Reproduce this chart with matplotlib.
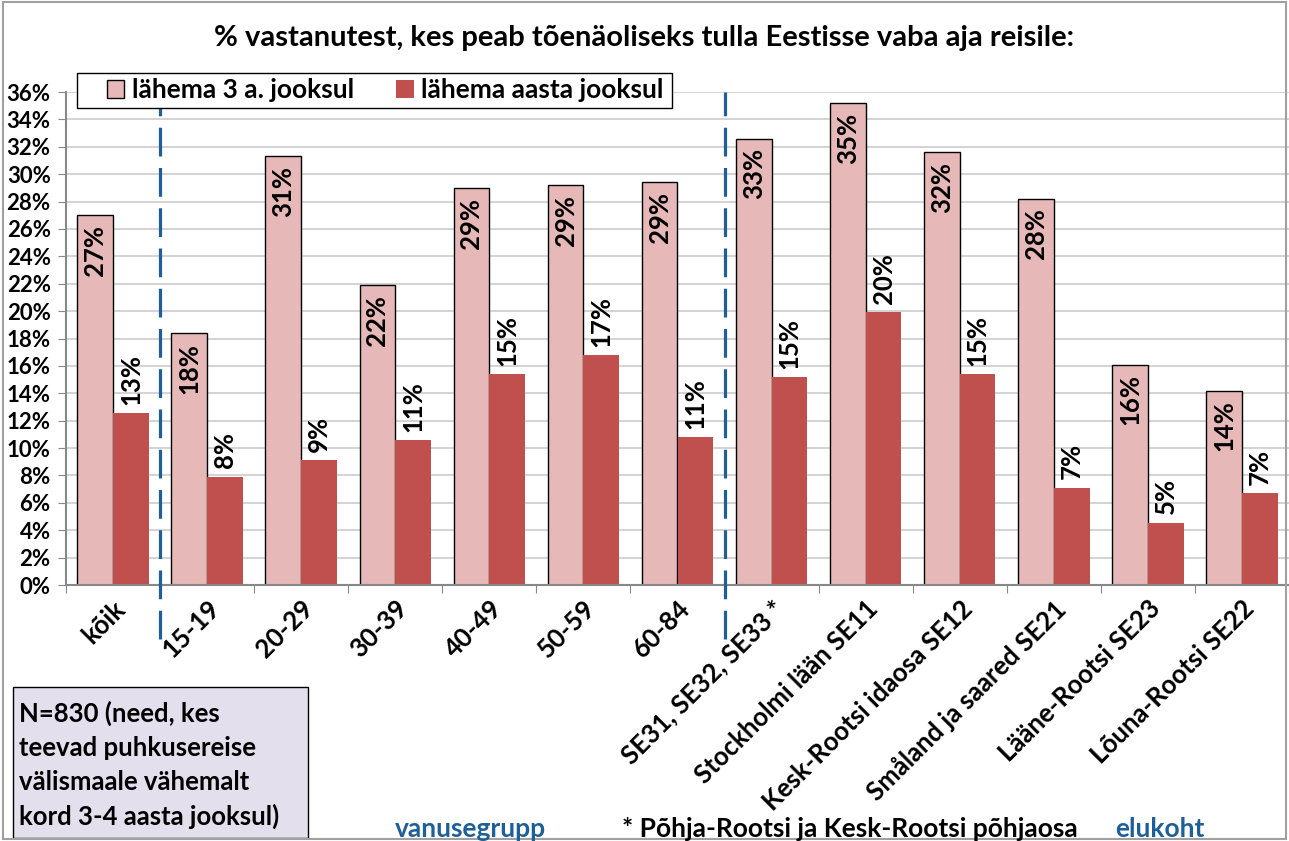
import matplotlib.pyplot as plt
from matplotlib.patches import Patch, Rectangle

plt.rcParams['font.family'] = ['Lato', 'DejaVu Sans']
plt.rcParams['font.weight'] = 'bold'

categories = ['kõik', '15-19', '20-29', '30-39', '40-49', '50-59', '60-84',
              'SE31, SE32, SE33 *', 'Stockholmi lään SE11',
              'Kesk-Rootsi idaosa SE12', 'Småland ja saared SE21',
              'Lääne-Rootsi SE23', 'Lõuna-Rootsi SE22']
next_3_years = [27.0, 18.4, 31.3, 21.9, 29.0, 29.2, 29.4,
                32.6, 35.2, 31.6, 28.2, 16.1, 14.2]
next_year = [12.55, 7.9, 9.1, 10.6, 15.4, 16.8, 10.8,
             15.2, 19.9, 15.4, 7.1, 4.55, 6.7]
yticks = list(range(0, 37, 2))
separators = [0.5, 6.5]

pink = '#E6B9B8'
red = '#C0504D'
blue = '#1F5F99'

fig = plt.figure(figsize=(12.89, 8.41), dpi=100)
ax = fig.add_axes([66 / 1289, 1 - 585 / 841, 1 - 66 / 1289, 493 / 841])

x = list(range(len(categories)))
w = 0.38
ax.bar([i - w / 2 for i in x], next_3_years, w, color=pink,
       edgecolor='black', linewidth=1, zorder=2)
ax.bar([i + w / 2 for i in x], next_year, w, color=red,
       edgecolor='none', zorder=2)

# value labels: inside the pink bars, above the red ones
for i in x:
    ax.annotate('%.0f%%' % next_3_years[i], (i - w / 2, next_3_years[i]),
                xytext=(0, -7), textcoords='offset points', rotation=90,
                ha='center', va='top', fontsize=18.5, fontweight='bold',
                zorder=3)
    ax.annotate('%.0f%%' % next_year[i], (i + w / 2, next_year[i]),
                xytext=(0, 6), textcoords='offset points', rotation=90,
                ha='center', va='bottom', fontsize=18.5, fontweight='bold',
                zorder=3)

ax.set_xlim(-0.5, len(categories) - 0.5)
ax.set_ylim(0, 36)
ax.set_yticks(yticks)
ax.set_yticklabels(['%d%%' % t for t in yticks], fontsize=16,
                   fontweight='bold')
ax.yaxis.grid(True, color='#D0D0D0', linewidth=1.3, zorder=0)
ax.set_axisbelow(True)

ax.set_xticks([i - 0.5 for i in x] + [len(x) - 0.5])
ax.set_xticklabels([])
ax.set_xticks(x, minor=True)
ax.set_xticklabels(categories, minor=True, rotation=45, ha='right',
                   va='top', rotation_mode='anchor', fontsize=18.5,
                   fontweight='bold')
ax.tick_params(axis='x', which='minor', length=0, pad=8)
ax.tick_params(axis='x', which='major', length=6, color='#888888')
ax.tick_params(axis='y', length=6, color='#888888', pad=5)

for s in ['top', 'right']:
    ax.spines[s].set_visible(False)
for s in ['left', 'bottom']:
    ax.spines[s].set_color('#888888')
    ax.spines[s].set_linewidth(1.5)

for sx in separators:
    ax.plot([sx, sx], [-0.11, 1.0], transform=ax.get_xaxis_transform(),
            color=blue, linewidth=2.3, linestyle=(0, (9, 3.6)),
            clip_on=False, zorder=4)

# legend box drawn by hand (wide left padding as in the original)
fig.patches.append(Rectangle((77 / 1289, 1 - 108 / 841), 595 / 1289,
                             35 / 841, transform=fig.transFigure,
                             facecolor='white', edgecolor='black',
                             linewidth=1, zorder=5))
handles = [Patch(facecolor=pink, edgecolor='black', linewidth=1),
           Patch(facecolor=red, edgecolor='none')]
leg = fig.legend(handles, ['lähema 3 a. jooksul', 'lähema aasta jooksul'],
                 loc='center left', bbox_to_anchor=(107 / 1289, 1 - 90.5 / 841),
                 ncol=2, fontsize=19, frameon=False, borderaxespad=0,
                 handlelength=0.65, handleheight=0.65, handletextpad=0.3,
                 columnspacing=1.6, borderpad=0)
leg.set_zorder(10)
for t in leg.get_texts():
    t.set_fontweight('bold')

fig.text(0.5, 1 - 38 / 841,
         '% vastanutest, kes peab tõenäoliseks tulla Eestisse vaba aja reisile:',
         ha='center', va='center', fontsize=21, fontweight='bold')

# note box
fig.patches.append(Rectangle((13 / 1289, 1 - 838 / 841), 295 / 1289,
                             151 / 841, transform=fig.transFigure,
                             facecolor='#E4DFEC', edgecolor='black',
                             linewidth=1))
note = ['N=830 (need, kes', 'teevad puhkusereise', 'välismaale vähemalt',
        'kord 3-4 aasta jooksul)']
for k, line in enumerate(note):
    fig.text(19 / 1289, 1 - (713 + 34.5 * k) / 841, line, ha='left',
             va='center', fontsize=18.5, fontweight='bold')

fig.text(470 / 1289, 1 - 829 / 841, 'vanusegrupp', ha='center', va='center',
         fontsize=19, fontweight='bold', color=blue)
fig.text(850 / 1289, 1 - 829 / 841, '* Põhja-Rootsi ja Kesk-Rootsi põhjaosa',
         ha='center', va='center', fontsize=19, fontweight='bold')
fig.text(1160 / 1289, 1 - 829 / 841, 'elukoht', ha='center', va='center',
         fontsize=19, fontweight='bold', color=blue)

# outer border
fig.patches.append(Rectangle((0.002, 0.002), 0.996, 0.996,
                             transform=fig.transFigure, facecolor='none',
                             edgecolor='#A0A0A0', linewidth=1.5))

fig.savefig('out.png', dpi=100)
